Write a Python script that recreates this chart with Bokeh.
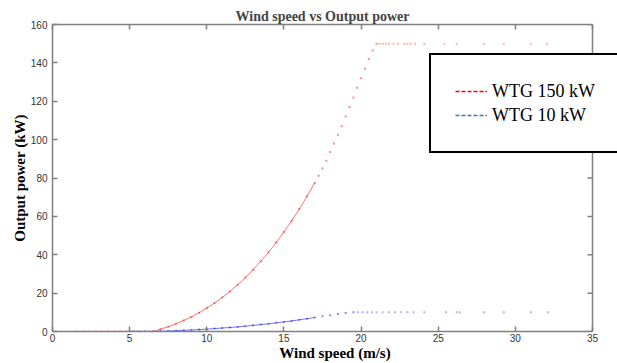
import math
from bokeh.plotting import figure
from bokeh.models import Range1d, LinearAxis, FixedTicker, Legend, LegendItem, Span
from bokeh.embed import file_html
from bokeh.resources import INLINE

# ---- data ----
x_ticks = [0, 5, 10, 15, 20, 25, 30, 35]
y_ticks = [0, 20, 40, 60, 80, 100, 120, 140, 160]
x_max = 35
y_max = 160

# WTG 150 kW : zero region, power curve, rated plateau
speed_150_zero = [1.6, 2.0, 2.4, 2.8, 3.2, 3.6, 4.0, 4.4, 4.8, 5.2, 5.6, 6.0]
power_150_zero = [0, 0, 0, 0, 0, 0, 0, 0, 0, 0, 0, 0]
speed_150_curve = [6.5, 7.0, 7.5, 8.0, 8.5, 9.0, 9.5, 10.0, 10.5, 11.0, 11.5, 12.0,
                   12.5, 13.0, 13.5, 14.0, 14.5, 15.0, 15.5, 16.0, 16.5, 17.0,
                   17.25, 17.5, 17.75, 18.0, 18.25, 18.5, 18.75, 19.0, 19.25, 19.5,
                   19.75, 20.0, 20.25, 20.5, 20.75, 21.0]
power_150_curve = [0, 1.2, 2.5, 4.0, 5.7, 7.6, 9.8, 12.2, 14.8, 17.7, 20.9, 24.3,
                   28.1, 32.2, 36.6, 41.3, 46.4, 51.9, 57.7, 63.9, 70.5, 77.5,
                   81.2, 85.0, 89.0, 93.5, 98.0, 102.5, 107.0, 112.0, 117.0, 122.0,
                   127.0, 132.0, 137.0, 142.0, 146.5, 150.0]
speed_150_rated = [21.2, 21.4, 21.6, 21.8, 22.1, 22.4, 22.8, 23.0, 23.2, 23.5,
                   24.1, 25.4, 26.2, 27.95, 29.25, 31.0, 32.05]
power_150_rated = [150] * 17

# WTG 10 kW
speed_10_zero = [5.0, 5.25, 5.5, 5.75, 6.0, 6.25]
power_10_zero = [0, 0, 0, 0, 0, 0]
speed_10_curve = [6.5, 7.0, 7.5, 8.0, 8.5, 9.0, 9.5, 10.0, 10.5, 11.0, 11.5, 12.0,
                  12.5, 13.0, 13.5, 14.0, 14.5, 15.0, 15.5, 16.0, 16.5, 17.0,
                  17.5, 18.0, 18.5, 19.0, 19.5]
power_10_curve = [0, 0.1, 0.2, 0.4, 0.6, 0.8, 1.0, 1.25, 1.5, 1.8, 2.1, 2.4,
                  2.8, 3.2, 3.6, 4.0, 4.5, 5.0, 5.5, 6.1, 6.7, 7.3,
                  7.9, 8.5, 9.1, 9.6, 10.0]
speed_10_rated = [19.8, 20.1, 20.4, 20.7, 21.0, 21.4, 21.8, 22.2, 22.6, 23.0,
                  23.4, 24.1, 25.5, 26.2, 26.4, 27.95, 29.25, 31.0, 32.1]
power_10_rated = [10] * 19

series_labels = ["WTG 150 kW", "WTG 10 kW"]

RED = "#ff0000"
BLUE = "#0000ff"
FRAME = "#808080"

# frame runs to the window edge so that the legend box can overhang the axes box
x_end = x_max * 565.0 / 540.0

p = figure(width=617, height=363, output_backend="svg", toolbar_location=None,
           x_range=Range1d(0, x_end), y_range=Range1d(0, y_max),
           min_border_left=52, min_border_right=0, min_border_top=24, min_border_bottom=32,
           title="Wind speed vs Output power")
p.xgrid.grid_line_color = None
p.ygrid.grid_line_color = None
p.outline_line_color = None
p.background_fill_color = "white"
p.border_fill_color = "white"

p.title.text_font = "Liberation Serif"
p.title.text_font_size = "14px"
p.title.text_font_style = "bold"
p.title.align = "left"
p.title.offset = 183
p.title.standoff = 2

# top axis (box edge with inward ticks, no labels)
top_axis = LinearAxis(major_label_text_color=None, major_label_standoff=0)
p.add_layout(top_axis, "above")

for ax in p.xaxis:
    ax.ticker = FixedTicker(ticks=x_ticks)
    ax.bounds = (0, x_max)
for ax in p.yaxis:
    ax.ticker = FixedTicker(ticks=y_ticks)

for ax in p.axis:
    ax.axis_line_color = FRAME
    ax.axis_line_width = 1.5
    ax.major_tick_line_color = FRAME
    ax.major_tick_line_width = 1.5
    ax.major_tick_in = 5
    ax.major_tick_out = 0
    ax.minor_tick_line_color = None
    ax.major_label_text_font = "Liberation Sans"
    ax.major_label_text_font_size = "10px"
top_axis.major_label_text_color = None

xa = p.below[0]
xa.axis_label = "Wind speed (m/s)"
xa.major_label_standoff = 2
xa.axis_label_standoff = 0
xa.major_label_text_color = "#333333"
ya = p.left[0]
ya.axis_label = "Output power (kW)"
ya.major_label_standoff = 5
ya.axis_label_standoff = 0
ya.major_label_text_color = "#333333"
for ax in (xa, ya):
    ax.axis_label_text_font = "Liberation Serif"
    ax.axis_label_text_font_style = "bold"
    ax.axis_label_text_color = "black"
    ax.axis_label_text_font_size = "15px"

# right edge of the axes box, with inward ticks
p.add_layout(Span(location=x_max, dimension="height", line_color=FRAME, line_width=1.5))
p.ray(x=[x_max] * len(y_ticks), y=y_ticks, length=5, length_units="screen",
      angle=math.pi, line_color=FRAME, line_width=1.5)

# data: lines for the dense part, dots everywhere
dense_150 = [i for i, v in enumerate(speed_150_curve) if v <= 17.0]
p.line(speed_150_zero + [speed_150_curve[i] for i in dense_150],
       power_150_zero + [power_150_curve[i] for i in dense_150],
       line_color=RED, line_width=1, line_alpha=0.55)
p.scatter(speed_150_zero + speed_150_curve,
          power_150_zero + power_150_curve,
          size=2, marker="square", fill_color=RED, line_color=None, fill_alpha=0.45)
p.scatter(speed_150_rated, power_150_rated,
          size=2, marker="square", fill_color=RED, line_color=None, fill_alpha=0.3)

dense_10 = [i for i, v in enumerate(speed_10_curve) if v <= 17.0]
p.line(speed_10_zero + [speed_10_curve[i] for i in dense_10],
       power_10_zero + [power_10_curve[i] for i in dense_10],
       line_color=BLUE, line_width=1, line_alpha=0.55)
p.scatter(speed_10_zero + speed_10_curve,
          power_10_zero + power_10_curve,
          size=2, marker="square", fill_color=BLUE, line_color=None, fill_alpha=0.45)
p.scatter(speed_10_rated, power_10_rated,
          size=2, marker="square", fill_color=BLUE, line_color=None, fill_alpha=0.3)

# legend proxies (dashed, nothing drawn in the plot)
nan = float("nan")
r1 = p.line(x=[nan], y=[nan], line_color="#ff0000", line_dash="4 2", line_width=1.5)
r2 = p.line(x=[nan], y=[nan], line_color="#4472c4", line_dash="4 2", line_width=1.5)

legend = Legend(items=[LegendItem(label=series_labels[0], renderers=[r1]),
                       LegendItem(label=series_labels[1], renderers=[r2])],
                location=(377, 178), padding=24, spacing=0, margin=0,
                label_height=24, glyph_height=24, glyph_width=32, label_standoff=5,
                label_width=170,
                label_text_font="Liberation Serif", label_text_font_size="18px",
                label_text_color="black",
                border_line_color="black", border_line_width=2, border_line_alpha=1.0,
                background_fill_color="white", background_fill_alpha=1.0)
p.add_layout(legend)

open("out.html", "w").write(file_html(p, INLINE))
